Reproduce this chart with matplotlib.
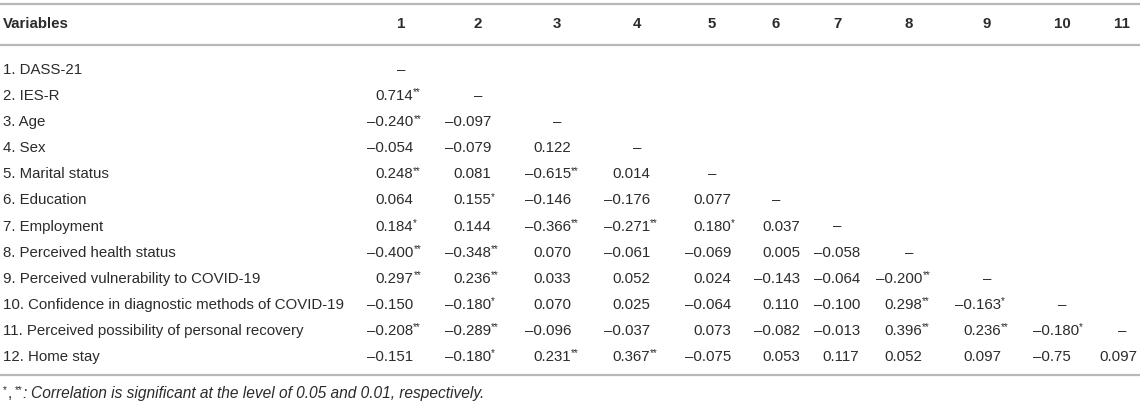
import matplotlib
matplotlib.use('Agg')
import matplotlib.pyplot as plt

plt.rcParams['font.family'] = ['Liberation Sans', 'DejaVu Sans']

# table content
variables = [
    "1. DASS-21",
    "2. IES-R",
    "3. Age",
    "4. Sex",
    "5. Marital status",
    "6. Education",
    "7. Employment",
    "8. Perceived health status",
    "9. Perceived vulnerability to COVID-19",
    "10. Confidence in diagnostic methods of COVID-19",
    "11. Perceived possibility of personal recovery",
    "12. Home stay",
]
col_labels = ["1", "2", "3", "4", "5", "6", "7", "8", "9", "10", "11"]

# correlations (lower triangle, as printed)
corr = [
    [],
    ["0.714"],
    ["-0.240", "-0.097"],
    ["-0.054", "-0.079", "0.122"],
    ["0.248", "0.081", "-0.615", "0.014"],
    ["0.064", "0.155", "-0.146", "-0.176", "0.077"],
    ["0.184", "0.144", "-0.366", "-0.271", "0.180", "0.037"],
    ["-0.400", "-0.348", "0.070", "-0.061", "-0.069", "0.005", "-0.058"],
    ["0.297", "0.236", "0.033", "0.052", "0.024", "-0.143", "-0.064", "-0.200"],
    ["-0.150", "-0.180", "0.070", "0.025", "-0.064", "0.110", "-0.100", "0.298", "-0.163"],
    ["-0.208", "-0.289", "-0.096", "-0.037", "0.073", "-0.082", "-0.013", "0.396", "0.236", "-0.180"],
    ["-0.151", "-0.180", "0.231", "0.367", "-0.075", "0.053", "0.117", "0.052", "0.097", "-0.75", "0.097"],
]
# significance: 1 -> p<0.05 (*), 2 -> p<0.01 (**)
sig = [
    [],
    [2],
    [2, 0],
    [0, 0, 0],
    [2, 0, 2, 0],
    [0, 1, 0, 0, 0],
    [1, 0, 2, 2, 1, 0],
    [2, 2, 0, 0, 0, 0, 0],
    [2, 2, 0, 0, 0, 0, 0, 2],
    [0, 1, 0, 0, 0, 0, 0, 2, 1],
    [2, 2, 0, 0, 0, 0, 0, 2, 2, 1],
    [0, 1, 2, 2, 0, 0, 0, 0, 0, 0, 0],
]
footnote = "Correlation is significant at the level of 0.05 and 0.01, respectively."

W, H = 1145, 408
fig = plt.figure(figsize=(W / 100, H / 100), dpi=100)
ax = fig.add_axes([0, 0, 1, 1])
ax.set_xlim(0, W)
ax.set_ylim(H, 0)
ax.axis('off')

TXT = '#2b2b2b'
LINE = '#b8b8b8'
FS = 10.8
FOOT_FS = 11.2
STAR_FS = 7

header_y = 23
row_y0, row_dy = 68.5, 26.1
base_off = 5.4
col_x = [401, 478, 557, 637, 712, 776, 837, 909, 987, 1062, 1122]
num_x = [375, 453, 533, 612, 693, 762, 822, 884, 963, 1041, 1099]

for y in (4, 45, 375):
    ax.plot([0, 1140], [y, y], color=LINE, lw=1.6, solid_capstyle='butt')

r = fig.canvas.get_renderer()


def right_edge(t):
    return t.get_window_extent(renderer=r).x1


# width of the leading dash so the digits line up
t1 = ax.text(0, 0, "\u20130.000", fontsize=FS)
t2 = ax.text(0, 0, "0.000", fontsize=FS)
dash_w = t1.get_window_extent(renderer=r).width - t2.get_window_extent(renderer=r).width
t1.remove()
t2.remove()

# header
ax.text(3, header_y + base_off, "Variables", fontsize=FS, weight='bold',
        color=TXT, ha='left', va='baseline')
for x, lab in zip(col_x, col_labels):
    ax.text(x, header_y + base_off, lab, fontsize=FS, weight='bold',
            color=TXT, ha='center', va='baseline')

# body
for i, name in enumerate(variables):
    yb = row_y0 + i * row_dy + base_off
    ax.text(3, yb, name, fontsize=FS, color=TXT, ha='left', va='baseline')
    for j, (val, n) in enumerate(zip(corr[i], sig[i])):
        neg = val.startswith('-')
        s = ("\u2013" + val[1:]) if neg else val
        x = num_x[j] - (dash_w if neg else 0)
        t = ax.text(x, yb, s, fontsize=FS, color=TXT, ha='left', va='baseline')
        if n:
            ax.text(right_edge(t) + 0.5, yb - 4.5, "*" * n, fontsize=STAR_FS,
                    color=TXT, ha='left', va='baseline')
    if i < len(col_x):
        ax.text(col_x[i], yb, "\u2013", fontsize=FS, color=TXT,
                ha='center', va='baseline')

# footnote
fy = 398
x = 3
for s, kw, dy in [("*", dict(fontsize=STAR_FS), -4.5),
                  (",", dict(fontsize=FOOT_FS), 0),
                  ("**", dict(fontsize=STAR_FS), -4.5),
                  (":", dict(fontsize=FOOT_FS, style='italic'), 0)]:
    t = ax.text(x, fy + dy, s, color=TXT, ha='left', va='baseline', **kw)
    x = right_edge(t) + (3 if s == "," else 0.5)
ax.text(x + 3, fy, footnote, fontsize=FOOT_FS, style='italic', color=TXT,
        ha='left', va='baseline')

fig.savefig('out.png', dpi=100, facecolor='white')
